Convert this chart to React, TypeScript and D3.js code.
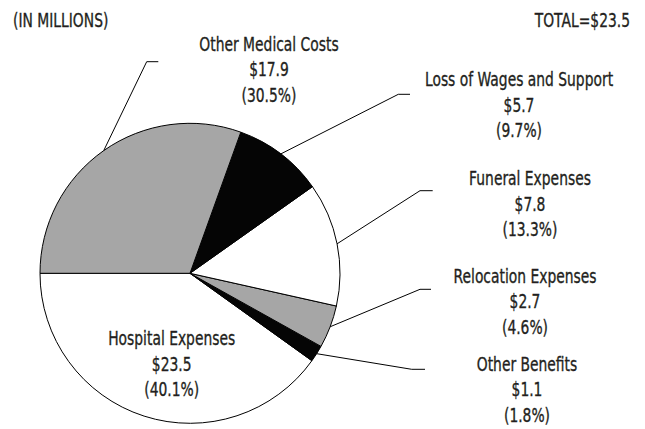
import React from "react";
import * as d3 from "d3";

const categories = [
  "Hospital Expenses",
  "Other Benefits",
  "Relocation Expenses",
  "Funeral Expenses",
  "Loss of Wages and Support",
  "Other Medical Costs",
];
const amounts = ["$23.5", "$1.1", "$2.7", "$7.8", "$5.7", "$17.9"];
const percents = [40.1, 1.8, 4.6, 13.3, 9.7, 30.5];
const fills = ["#ffffff", "#050505", "#a6a6a6", "#ffffff", "#050505", "#a6a6a6"];

// label layout: text centre x, first baseline y, leader elbow and end (null = inside)
const labelLayout = [
  { x: 171.7, y: 345, elbow: null },
  { x: 527, y: 370.7, elbow: [411.7, 369.3], end: [425, 369.3] },
  { x: 525, y: 282.7, elbow: [420, 289.3], end: [431, 289.3] },
  { x: 530, y: 185, elbow: [420, 190.7], end: [432.7, 190.7] },
  { x: 519, y: 86, elbow: [398.3, 94.3], end: [410, 94.3] },
  { x: 269, y: 50.5, elbow: [146.7, 61.7], end: [158.3, 61.7] },
];

const W = 645;
const H = 429;
const CX = 190;
const CY = 273.3;
const R = 150;
const LINE = 25.7;
const FONT = "'DejaVu Sans', sans-serif";
const FS = 19;
const SX = 0.73;
const TEXT = "#231f20";

function Label({ x, y, anchor, children }: any) {
  return (
    <g transform={`translate(${x},${y}) scale(${SX},1)`}>
      <text
        x={0}
        y={0}
        fontSize={FS}
        fill={TEXT}
        stroke={TEXT}
        strokeWidth={0.35}
        textAnchor={anchor}
      >
        {children}
      </text>
    </g>
  );
}

export default function App() {
  const data = categories.map((c, i) => ({ c, a: amounts[i], p: percents[i], f: fills[i], i }));
  const pie = d3
    .pie<any>()
    .value((d) => d.p)
    .sort(null)
    .startAngle(-Math.PI / 2)
    .endAngle(-Math.PI / 2 - 2 * Math.PI);
  const arcs = pie(data);
  const arc = d3.arc<any>().innerRadius(0).outerRadius(R);

  return (
    <svg
      width={W}
      height={H}
      style={{ position: "absolute", left: 0, top: 0, background: "#fff" }}
      fontFamily={FONT}
    >
      <Label x={13} y={26.7} anchor="start">(IN MILLIONS)</Label>
      <Label x={630} y={26.7} anchor="end">TOTAL=$23.5</Label>
      <g transform={`translate(${CX},${CY})`}>
        {arcs.map((a, i) => (
          <path key={i} d={arc(a) as string} fill={a.data.f} stroke="#000" strokeWidth={1} />
        ))}
      </g>
      {arcs.map((a, i) => {
        const L: any = labelLayout[i];
        const mid = (a.startAngle + a.endAngle) / 2;
        const sx = CX + R * Math.sin(mid);
        const sy = CY - R * Math.cos(mid);
        return (
          <g key={i}>
            {L.elbow && (
              <polyline
                points={`${sx},${sy} ${L.elbow[0]},${L.elbow[1]} ${L.end[0]},${L.end[1]}`}
                fill="none"
                stroke="#000"
                strokeWidth={1}
              />
            )}
            <Label x={L.x} y={L.y} anchor="middle">{a.data.c}</Label>
            <Label x={L.x} y={L.y + LINE} anchor="middle">{a.data.a}</Label>
            <Label x={L.x} y={L.y + 2 * LINE} anchor="middle">({a.data.p.toFixed(1)}%)</Label>
          </g>
        );
      })}
    </svg>
  );
}
